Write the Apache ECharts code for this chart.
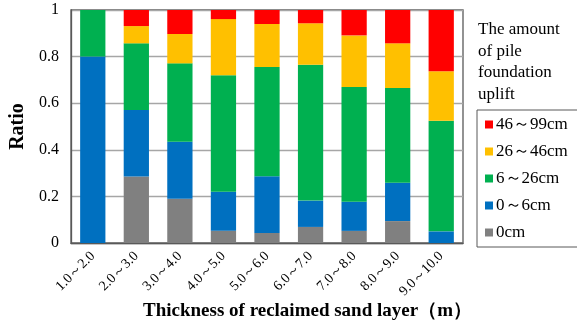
<!DOCTYPE html>
<html><head><meta charset="utf-8">
<script src="https://cdn.jsdelivr.net/npm/echarts@6/dist/echarts.min.js"></script>
<style>html,body{margin:0;padding:0;background:#fff}#c{width:577px;height:327px}</style>
</head><body><div id="c"></div>
<script>
const categories = ['1.0～2.0','2.0～3.0','3.0～4.0','4.0～5.0','5.0～6.0','6.0～7.0','7.0～8.0','8.0～9.0','9.0～10.0'];
const s0cm   = [0, 0.285, 0.19, 0.053, 0.043, 0.069, 0.052, 0.094, 0];
const s0to6  = [0.80, 0.286, 0.245, 0.167, 0.243, 0.113, 0.125, 0.165, 0.050];
const s6to26 = [0.20, 0.286, 0.336, 0.500, 0.469, 0.583, 0.493, 0.406, 0.475];
const s26to46= [0, 0.074, 0.126, 0.241, 0.185, 0.178, 0.221, 0.192, 0.212];
const s46to99= [0, 0.069, 0.103, 0.039, 0.060, 0.057, 0.109, 0.143, 0.263];
const seriesNames = ['0cm','0～6cm','6～26cm','26～46cm','46～99cm'];
const colors = ['#808080','#0070C0','#00B050','#FFC000','#FF0000'];
const yTicks = [0,0.2,0.4,0.6,0.8,1];

const serif = '"Liberation Serif","Times New Roman",serif';
const chart = echarts.init(document.getElementById('c'));
const data = [s0cm,s0to6,s6to26,s26to46,s46to99];
chart.setOption({
  animation:false,
  grid:{left:59,top:10,width:404,height:233,containLabel:false,show:true,borderColor:'#595959',borderWidth:1.3},
  xAxis:{type:'category',data:categories,
    axisLine:{show:true,lineStyle:{color:'#595959',width:1.3}},axisTick:{show:false},
    axisLabel:{rotate:45,fontFamily:serif,fontSize:14,color:'#000',margin:11,interval:0}},
  yAxis:{type:'value',min:0,max:1,interval:0.2,
    name:'Ratio',nameLocation:'middle',nameGap:43,
    nameTextStyle:{fontFamily:serif,fontSize:20,fontWeight:'bold',color:'#000'},
    axisLine:{show:true,lineStyle:{color:'#595959',width:1.3}},
    splitLine:{lineStyle:{color:'#a6a6a6',width:1.3}},
    axisLabel:{fontFamily:serif,fontSize:16,color:'#000',margin:12,
      formatter:v=>String(yTicks.find(t=>Math.abs(t-v)<1e-9) ?? v)}},
  legend:{orient:'vertical',left:477,top:110,width:100,
    data:seriesNames.slice().reverse(),icon:'rect',itemWidth:8,itemHeight:8,itemGap:10,
    borderColor:'#595959',borderWidth:1,padding:[6,20,6,8],
    textStyle:{fontFamily:serif,fontSize:17,color:'#000',padding:[0,0,0,-2]}},
  graphic:[
    {type:'text',left:478,top:19,style:{text:'The amount\nof pile\nfoundation\nuplift',font:'17px '+serif,lineHeight:21.5,fill:'#000'}},
    {type:'text',left:143,top:302,style:{text:'Thickness of reclaimed sand layer（m）',font:'bold 19px '+serif,fill:'#000'}}
  ],
  series:data.map((d,i)=>({name:seriesNames[i],type:'bar',stack:'a',data:d,barCategoryGap:'42%',
    itemStyle:{color:colors[i]}}))
});
</script></body></html>
